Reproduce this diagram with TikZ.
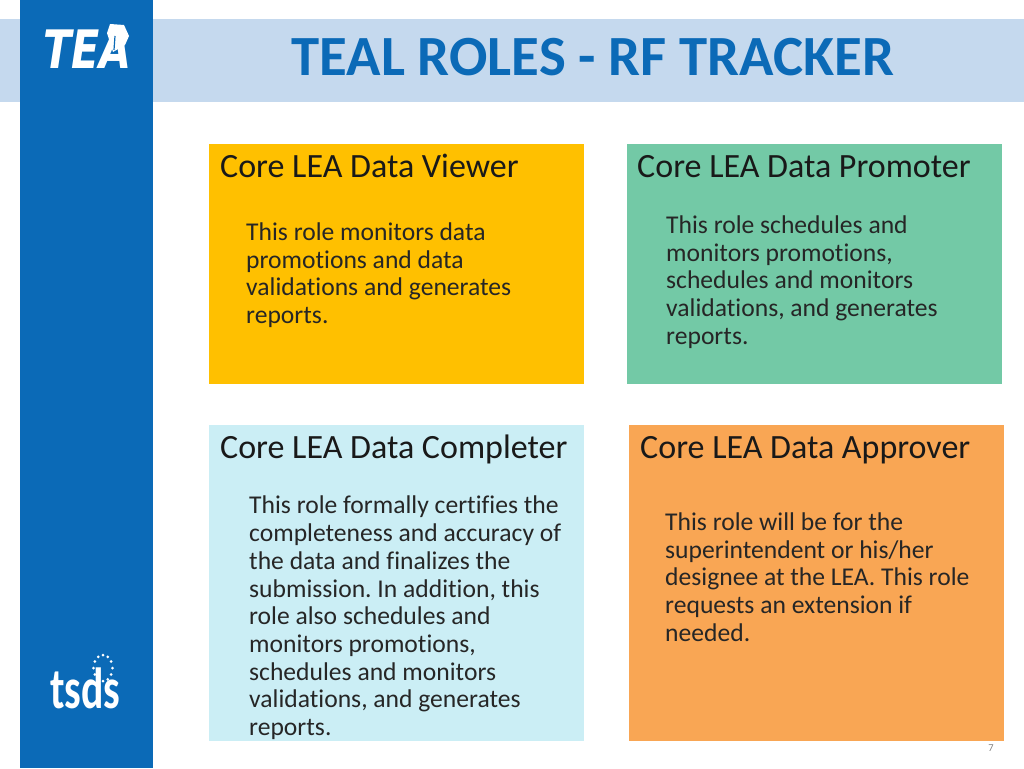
\documentclass[tikz,border=0pt]{standalone}
\usepackage{fontspec}
\setmainfont[RawFeature=-liga]{Carlito}
\newfontfamily\logofont{DejaVu Sans}
\usepackage{tikz}
\usetikzlibrary{positioning}
\frenchspacing
\definecolor{sidebar}{HTML}{0B6AB7}
\definecolor{band}{HTML}{C5D9EE}
\definecolor{viewerfill}{HTML}{FFC000}
\definecolor{promoterfill}{HTML}{73C9A6}
\definecolor{completerfill}{HTML}{CBEEF5}
\definecolor{approverfill}{HTML}{F9A654}
\tikzset{
  rolehead/.style={anchor=base west, inner sep=0pt, font=\fontsize{34}{34}\selectfont, text=black!90},
  roletext/.style={anchor=north west, inner sep=0pt, align=left, text=black!85,
    font=\fontsize{25.6}{27.7}\selectfont},
}
\begin{document}
\begin{tikzpicture}[x=1pt,y=-1pt]
\useasboundingbox (0,0) rectangle (1024,768);

\fill[band] (0,19) rectangle (1024,102);
\fill[sidebar] (20,0) rectangle (153,768);
\node (title) [inner sep=0pt, text=sidebar, font=\fontsize{56.8}{56.8}\bfseries\selectfont] at (593,57) {TEAL ROLES - RF TRACKER};

% logos
\node (tea) [inner sep=0pt, anchor=base west, text=white, font=\logofont\fontsize{53}{53}\bfseries\itshape\selectfont, transform shape, xscale=.78] at (43,68) {TEA};
\fill[white] (107,33) -- (110,24) -- (124,25) -- (129,36) -- (125,45) -- (113,52) -- cycle;
\draw[sidebar, line width=1.2pt] (114,50) -- (115,36);
\node (tsds) [inner sep=0pt, anchor=base west, text=white, font=\fontsize{58}{58}\bfseries\selectfont, transform shape, xscale=.72] at (50,708) {tsds};
\foreach \a in {0,30,...,330}
  \fill[white] ({103+9.5*sin(\a)},{668-13*cos(\a)}) circle (1.5);

% boxes
\fill[viewerfill] (209,144) rectangle (584,384);
\fill[promoterfill] (627,144) rectangle (1002,384);
\fill[completerfill] (209,425) rectangle (584,741);
\fill[approverfill] (629,425) rectangle (1004,741);

\node (viewer) [rolehead] at (220,177.5) {Core LEA Data Viewer};
\node (viewertext) [roletext] at (246,222.5) {This role monitors data\\promotions and data\\validations and generates\\reports.};
\node (promoter) [rolehead] at (637,177.5) {Core LEA Data Promoter};
\node (promotertext) [roletext] at (666,215.5) {This role schedules and\\monitors promotions,\\schedules and monitors\\validations, and generates\\reports.};
\node (completer) [rolehead] at (220,458.5) {Core LEA Data Completer};
\node (completertext) [roletext] at (249,496) {This role formally certifies the\\completeness and accuracy of\\the data and finalizes the\\submission. In addition, this\\role also schedules and\\monitors promotions,\\schedules and monitors\\validations, and generates\\reports.};
\node (approver) [rolehead] at (640,458.5) {Core LEA Data Approver};
\node (approvertext) [roletext] at (665,512.5) {This role will be for the\\superintendent or his/her\\designee at the LEA. This role\\requests an extension if\\needed.};

\node (pagenum) [inner sep=0pt, text=black!50, font=\fontsize{10.5}{10.5}\selectfont] at (991,748) {7};
\end{tikzpicture}
\end{document}
